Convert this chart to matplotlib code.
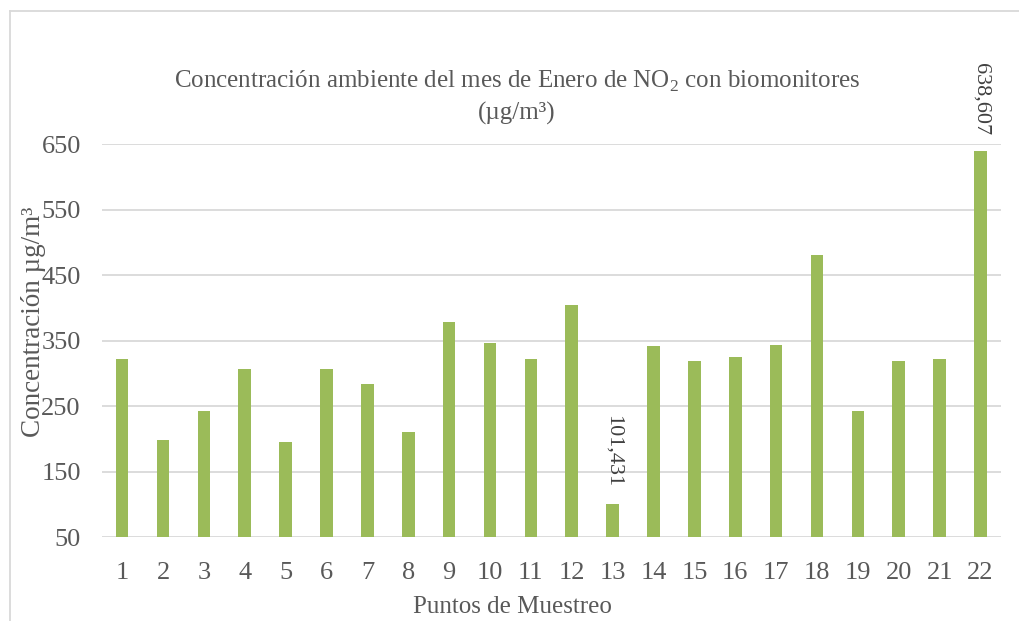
import matplotlib.pyplot as plt
from matplotlib.lines import Line2D

puntos = [str(i) for i in range(1, 23)]
concentracion = [321.6, 199.0, 242.7, 306.3, 195.5, 306.3, 284.4, 211.0, 378.5, 347.0,
                 321.6, 404.0, 101.431, 341.4, 318.5, 324.6, 343.4, 480.2, 242.7, 318.5,
                 321.6, 638.607]
etiquetas = {12: "101,431", 21: "638,607"}
y_ticks = [50, 150, 250, 350, 450, 550, 650]

plt.rcParams['font.family'] = ['Liberation Serif', 'DejaVu Serif']
plt.rcParams['mathtext.fontset'] = 'custom'
plt.rcParams['mathtext.rm'] = 'Liberation Serif'

GRIS = "#595959"
VERDE = "#9BBB59"

fig = plt.figure(figsize=(10.19, 6.21), dpi=100)
ax = fig.add_axes([0.0998, 0.1348, 0.8825, 0.6333])

x = list(range(len(puntos)))
ax.bar(x, concentracion, width=0.31, color=VERDE, zorder=3)
ax.set_xlim(-0.5, len(puntos) - 0.5)
ax.set_ylim(50, 650)
ax.set_yticks(y_ticks)
ax.set_xticks(x)
ax.set_xticklabels(puntos)
ax.grid(axis='y', color="#D9D9D9", linewidth=1.3, zorder=0)
ax.tick_params(length=0, labelsize=19, labelcolor=GRIS)
ax.tick_params(axis='x', pad=18)
ax.tick_params(axis='y', pad=15)
for s in ax.spines.values():
    s.set_visible(False)

for i, txt in etiquetas.items():
    ax.annotate(txt, (x[i], concentracion[i]), xytext=(0, 12), textcoords='offset points',
                rotation=-90, ha='center', va='bottom', fontsize=16, color="#404040")

fig.text(0.507, 0.869, "Concentración ambiente del mes de Enero de NO$_2$ con biomonitores",
         ha='center', va='center', fontsize=18, color=GRIS)
fig.text(0.507, 0.818, "(µg/m³)", ha='center', va='center', fontsize=18, color=GRIS)
fig.text(0.033, 0.481, "Concentración µg/m³", rotation=90, ha='center', va='center',
         fontsize=19.5, color=GRIS)
fig.text(0.503, 0.022, "Puntos de Muestreo", ha='center', va='center', fontsize=18, color=GRIS)

# borde del gráfico
fig.add_artist(Line2D([10 / 1019, 10 / 1019], [0, 1 - 11 / 621], color="#D9D9D9",
                      linewidth=1.3, transform=fig.transFigure))
fig.add_artist(Line2D([10 / 1019, 1], [1 - 11 / 621, 1 - 11 / 621], color="#D9D9D9",
                      linewidth=1.3, transform=fig.transFigure))

fig.savefig("out.png", dpi=100)
